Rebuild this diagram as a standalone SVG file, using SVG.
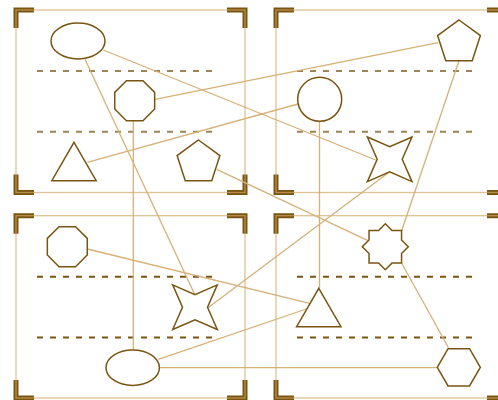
<svg xmlns="http://www.w3.org/2000/svg" width="498" height="400" viewBox="0 0 498 400">
<style>
.frame{fill:none;stroke:#d1a665;stroke-opacity:0.7;stroke-width:1.3}
.bracket{fill:none;stroke:#7a5512;stroke-width:5;stroke-linejoin:miter}
.dashA{stroke:#9c8456;stroke-width:2;stroke-dasharray:6,7}
.dashB{stroke:#7a5512;stroke-width:2;stroke-dasharray:6,7}
.conn{stroke:#d6b079;stroke-width:1.3;fill:none}
.shape{fill:#ffffff;stroke:#7a5512;stroke-width:1.5}
</style>
<g id="panels">
<path class="bracket" d="M16,28V10H34M227,10H245V28M16,174.5V192.5H34M227,192.5H245V174.5"/>
<path class="bracket" d="M276,28V10H294M487,10H505V28M276,174.5V192.5H294M487,192.5H505V174.5"/>
<path class="bracket" d="M16,233.7V215.7H34M227,215.7H245V233.7M16,380V398H34M227,398H245V380"/>
<path class="bracket" d="M276,233.7V215.7H294M487,215.7H505V233.7M276,380V398H294M487,398H505V380"/>
<rect class="frame" x="16" y="10" width="229" height="182.5"/>
<rect class="frame" x="276" y="10" width="229" height="182.5"/>
<rect class="frame" x="16" y="215.7" width="229" height="182.3"/>
<rect class="frame" x="276" y="215.7" width="229" height="182.3"/>
<line class="dashA" x1="37" y1="71" x2="217" y2="71"/>
<line class="dashA" x1="37" y1="131.7" x2="217" y2="131.7"/>
<line class="dashA" x1="297" y1="71" x2="477" y2="71"/>
<line class="dashA" x1="297" y1="131.7" x2="477" y2="131.7"/>
<line class="dashB" x1="37" y1="276.7" x2="217" y2="276.7"/>
<line class="dashB" x1="37" y1="337.4" x2="217" y2="337.4"/>
<line class="dashB" x1="297" y1="276.7" x2="477" y2="276.7"/>
<line class="dashB" x1="297" y1="337.4" x2="477" y2="337.4"/>
</g>
<g id="connectors">
<line class="conn" x1="103.3" y1="50" x2="375.7" y2="160"/>
<line class="conn" x1="85" y1="59.3" x2="195" y2="295"/>
<line class="conn" x1="155" y1="99.3" x2="438" y2="42.7"/>
<line class="conn" x1="133.3" y1="120.7" x2="133.3" y2="350"/>
<line class="conn" x1="87.3" y1="162.3" x2="298" y2="104"/>
<line class="conn" x1="216.7" y1="169.3" x2="368" y2="240.7"/>
<line class="conn" x1="459" y1="60.7" x2="401.7" y2="230.7"/>
<line class="conn" x1="319.5" y1="121.3" x2="319.5" y2="288.3"/>
<line class="conn" x1="389.7" y1="171.7" x2="208" y2="307.7"/>
<line class="conn" x1="87.3" y1="249" x2="309.7" y2="303.3"/>
<line class="conn" x1="158.3" y1="359.3" x2="306.3" y2="309"/>
<line class="conn" x1="160" y1="367.7" x2="437.3" y2="367.7"/>
<line class="conn" x1="401.7" y1="263.3" x2="448.5" y2="347.7"/>
</g>
<g id="ellipse-1"><ellipse class="shape" cx="78" cy="41" rx="27" ry="18"/></g>
<g id="octagon-1"><polygon class="shape" points="154.66,108.97 142.97,120.66 126.43,120.66 114.74,108.97 114.74,92.43 126.43,80.74 142.97,80.74 154.66,92.43"/></g>
<g id="triangle-1"><polygon class="shape" points="74,142.3 96.17,180.7 51.83,180.7"/></g>
<g id="pentagon-1"><polygon class="shape" points="198.5,140 219.9,155.55 211.73,180.7 185.27,180.7 177.1,155.55"/></g>
<g id="pentagon-2"><polygon class="shape" points="459,20 480.4,35.55 472.23,60.7 445.77,60.7 437.6,35.55"/></g>
<g id="circle-2"><circle class="shape" cx="319.7" cy="99.3" r="22"/></g>
<g id="star4-2"><polygon class="shape" points="367.4,137 389.7,146.8 412,137 402.2,159.3 412,181.6 389.7,171.8 367.4,181.6 377.2,159.3"/></g>
<g id="octagon-3"><polygon class="shape" points="87.26,254.97 75.57,266.66 59.03,266.66 47.34,254.97 47.34,238.43 59.03,226.74 75.57,226.74 87.26,238.43"/></g>
<g id="star4-3"><polygon class="shape" points="172.7,284.9 195,294.7 217.3,284.9 207.5,307.2 217.3,329.5 195,319.7 172.7,329.5 182.5,307.2"/></g>
<g id="ellipse-3"><ellipse class="shape" cx="132.7" cy="367.7" rx="26.7" ry="17.7"/></g>
<g id="star8-4"><polygon class="shape" points="385.3,223.7 392.04,230.44 401.56,230.44 401.56,239.96 408.3,246.7 401.56,253.44 401.56,262.96 392.04,262.96 385.3,269.7 378.56,262.96 369.04,262.96 369.04,253.44 362.3,246.7 369.04,239.96 369.04,230.44 378.56,230.44"/></g>
<g id="triangle-4"><polygon class="shape" points="318.8,288.3 340.97,326.7 296.63,326.7"/></g>
<g id="hexagon-4"><polygon class="shape" points="480.3,367.3 469.55,385.92 448.05,385.92 437.3,367.3 448.05,348.68 469.55,348.68"/></g>
</svg>
